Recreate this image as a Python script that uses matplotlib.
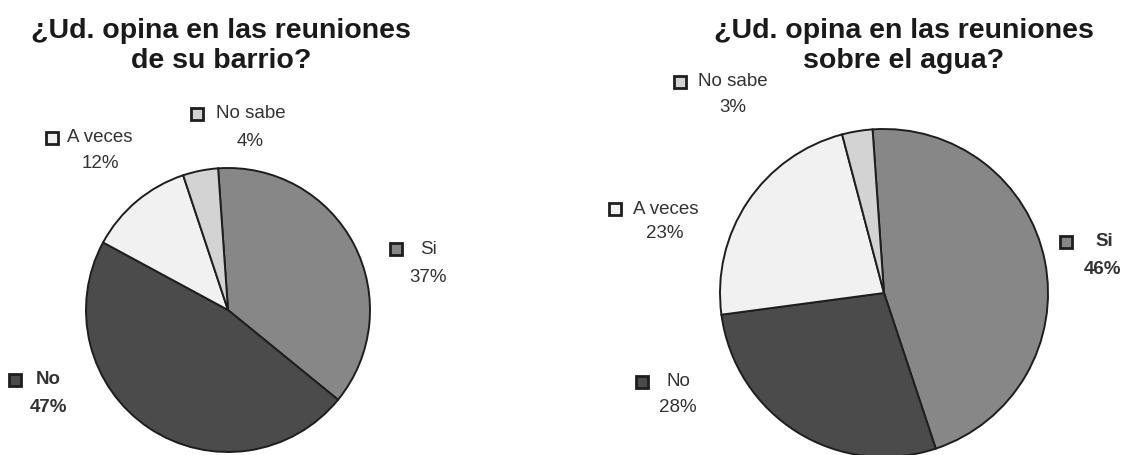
import matplotlib.pyplot as plt
from matplotlib.patches import Rectangle

plt.rcParams['font.family'] = ['Liberation Sans', 'DejaVu Sans']

categories = ['Si', 'No', 'A veces', 'No sabe']
barrio = [37, 47, 12, 4]
agua = [46, 28, 23, 3]
titles = ['¿Ud. opina en las reuniones\nde su barrio?',
          '¿Ud. opina en las reuniones\nsobre el agua?']

colors = ['#878787', '#4b4b4b', '#f1f1f1', '#d3d3d3']
edge = '#1e1e1e'

W, H = 1126, 455
fig = plt.figure(figsize=(W / 100, H / 100), dpi=100)
ax = fig.add_axes([0, 0, 1, 1])


def plot_pie(values, center, radius, label_pos, bold):
    # everything is laid out in pixel units, y measured from the top
    cx, cy = center
    ax.pie(values, colors=colors, startangle=94, counterclock=False,
           center=(cx, H - cy), radius=radius, frame=True,
           wedgeprops=dict(edgecolor=edge, linewidth=1.4))

    for cat, val, col, (sx, sy, nx, px, py) in zip(categories, values, colors, label_pos):
        fw = 'bold' if cat in bold else 'normal'
        ax.add_patch(Rectangle((sx - 6, H - sy - 6), 12, 12, facecolor=col,
                               edgecolor=edge, linewidth=2, zorder=5))
        ax.text(nx, H - sy, cat, ha='left', va='center', fontsize=13.5,
                color='#333333', fontweight=fw)
        ax.text(px, H - py, f'{val}%', ha='center', va='center', fontsize=13.5,
                color='#333333', fontweight=fw)


# (square x, square y, name x, percent x, percent y)
left_labels = [(396, 249, 420, 428, 277),
               (15, 380, 36, 48, 407),
               (52, 138, 67, 100, 163),
               (197, 114, 216, 250, 142)]
right_labels = [(1066, 242, 1095, 1103, 270),
                (642, 382, 667, 678, 408),
                (615, 209, 633, 665, 233),
                (680, 82, 698, 733, 108)]

plot_pie(barrio, (228, 310), 142, left_labels, bold=['No'])
plot_pie(agua, (884, 293), 164, right_labels, bold=['Si'])

ax.text(221, H - 46, titles[0], ha='center', va='center', fontsize=20.5,
        fontweight='bold', color='#1a1a1a', linespacing=1.15)
ax.text(904, H - 46, titles[1], ha='center', va='center', fontsize=20.5,
        fontweight='bold', color='#1a1a1a', linespacing=1.15)

ax.set_xlim(0, W)
ax.set_ylim(0, H)
ax.axis('off')

fig.savefig('out.png', dpi=100, facecolor='white')
